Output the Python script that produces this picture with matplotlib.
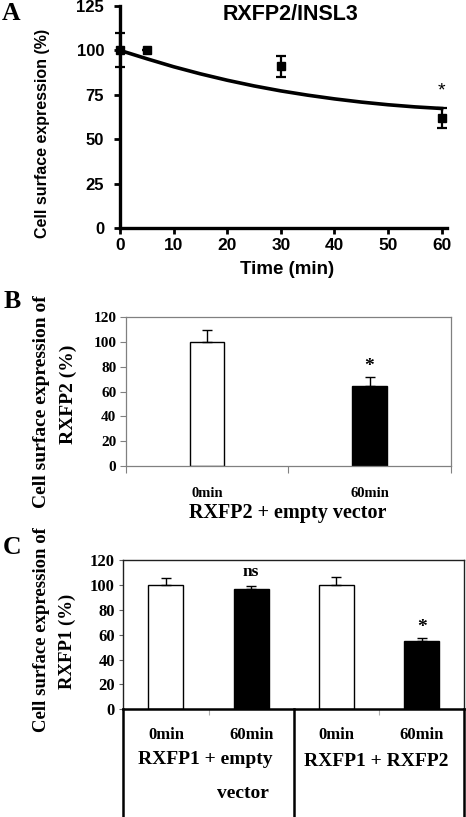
import matplotlib
matplotlib.use("Agg")
import matplotlib.pyplot as plt

# ---------------- data ----------------
# Panel A: time course
time_min = [0, 5, 30, 60]
expr_mean = [100, 100, 91, 62]
expr_err = [9.6, 0, 6, 5.6]
curve_time = [0, 5, 10, 15, 20, 25, 30, 35, 40, 45, 50, 55, 60]
curve_expr = [100, 95.3, 90.8, 86.8, 83.2, 80.0, 77.2, 74.8, 72.7, 70.9, 69.4, 68.2, 67.3]
a_xticks = [0, 10, 20, 30, 40, 50, 60]
a_yticks = [0, 25, 50, 75, 100, 125]

# Panel B
b_labels = ["0min", "60min"]
b_values = [100, 64.6]
b_err = [9.5, 7.0]
b_colors = ["white", "black"]

# Panel C
c_labels = ["0min", "60min", "0min", "60min"]
c_values = [100, 97, 100, 55.2]
c_err = [5.8, 2.4, 6.6, 2.0]
c_colors = ["white", "black", "white", "black"]
c_groups = ["RXFP1 + empty\nvector", "RXFP1 + RXFP2"]
bar_yticks = [0, 20, 40, 60, 80, 100, 120]

W, H = 466, 817
fig = plt.figure(figsize=(W / 100, H / 100), dpi=100)

def fx(px):
    return px / W

def fy(py):
    return 1 - py / H

def axes_px(l, t, r, b):
    return fig.add_axes([fx(l), fy(b), (r - l) / W, (b - t) / H])

SANS = "Liberation Sans"
SERIF = "Liberation Serif"

# ---------------- Panel A ----------------
axA = axes_px(120, 6, 447, 228)
axA.plot(curve_time, curve_expr, color="black", lw=2.6, clip_on=False, zorder=3)
axA.errorbar(time_min, expr_mean, yerr=expr_err, fmt="s", color="black",
             markersize=5.5, elinewidth=1.6, capsize=3.8, capthick=1.6,
             clip_on=False, zorder=4)
axA.set_xlim(0, 61)
axA.set_ylim(0, 125)
axA.set_xticks(a_xticks)
axA.set_yticks(a_yticks)
for s in ["top", "right"]:
    axA.spines[s].set_visible(False)
for s in ["left", "bottom"]:
    axA.spines[s].set_linewidth(2.4)
axA.tick_params(axis="both", direction="out", length=4.5, width=2.0, color="black")
axA.tick_params(axis="x", pad=3)
axA.tick_params(axis="y", pad=7)
for lab in axA.get_xticklabels():
    lab.set_fontfamily(SANS); lab.set_fontweight("bold"); lab.set_fontsize(12.5)
for lab in axA.get_yticklabels():
    lab.set_fontfamily(SANS); lab.set_fontweight("bold"); lab.set_fontsize(12)
axA.text(60, 77, "*", ha="center", va="center", fontsize=14, family=SANS)
fig.text(fx(290), fy(15), "RXFP2/INSL3", ha="center", va="center",
         fontsize=15.5, fontweight="bold", family=SANS)
fig.text(fx(287), fy(269), "Time (min)", ha="center", va="center",
         fontsize=13.5, fontweight="bold", family=SANS)
fig.text(fx(43), fy(133), "Cell surface expression (%)", ha="center", va="center",
         rotation=90, fontsize=11.5, fontweight="bold", family=SANS)
fig.text(fx(11), fy(14), "A", ha="center", va="center", fontsize=18.5,
         fontweight="bold", family=SERIF)

# ---------------- Panel B ----------------
axB = axes_px(126, 317.3, 450.7, 466)
xb = list(range(len(b_values)))
axB.bar(xb, b_values, width=0.213, color=b_colors, edgecolor="black", linewidth=1.0, zorder=2)
axB.errorbar(xb, b_values, yerr=[[0] * len(b_err), b_err], fmt="none", ecolor="black",
             elinewidth=1.0, capsize=3.5, capthick=1.0, zorder=3)
axB.set_xlim(-0.5, 1.5)
axB.set_ylim(0, 120)
axB.set_yticks(bar_yticks)
axB.set_xticks(xb)
axB.set_xticklabels(b_labels)
axB.set_xticks([-0.5, 0.5, 1.5], minor=True)
axB.tick_params(axis="x", which="major", length=0, pad=15)
axB.tick_params(axis="x", which="minor", length=5, width=0.8, color="#808080", direction="out")
axB.tick_params(axis="y", length=4, width=0.8, color="#808080", direction="out", pad=3)
for s in axB.spines.values():
    s.set_color("#808080"); s.set_linewidth(0.9)
for lab in axB.get_xticklabels():
    lab.set_fontfamily(SERIF); lab.set_fontweight("bold"); lab.set_fontsize(10.5)
for lab in axB.get_yticklabels():
    lab.set_fontfamily(SERIF); lab.set_fontweight("bold"); lab.set_fontsize(11)
axB.text(1, 80, "*", ha="center", va="center", fontsize=14, fontweight="bold", family=SERIF)
fig.text(fx(288), fy(513), "RXFP2 + empty vector", ha="center", va="center",
         fontsize=14.5, fontweight="bold", family=SERIF)
fig.text(fx(42), fy(402), "Cell surface expression of", ha="center", va="center",
         rotation=90, fontsize=14, fontweight="bold", family=SERIF)
fig.text(fx(68), fy(394), "RXFP2 (%)", ha="center", va="center",
         rotation=90, fontsize=14, fontweight="bold", family=SERIF)
fig.text(fx(12), fy(302), "B", ha="center", va="center", fontsize=18.5,
         fontweight="bold", family=SERIF)

# ---------------- Panel C ----------------
axC = axes_px(123.3, 560, 464.3, 709.3)
xc = list(range(len(c_values)))
axC.bar(xc, c_values, width=0.41, color=c_colors, edgecolor="black", linewidth=1.0, zorder=2)
axC.errorbar(xc, c_values, yerr=[[0] * len(c_err), c_err], fmt="none", ecolor="black",
             elinewidth=1.0, capsize=3.5, capthick=1.0, zorder=3)
axC.set_xlim(-0.5, 3.5)
axC.set_ylim(0, 120)
axC.set_yticks(bar_yticks)
axC.set_xticks([])
axC.set_xticks([0.5, 2.5], minor=True)
axC.tick_params(axis="x", which="minor", length=4, width=0.8, color="#b0b0b0", direction="out")
axC.tick_params(axis="y", length=3, width=0.8, color="#606060", direction="out", pad=3)
for s in ["top", "right", "left"]:
    axC.spines[s].set_color("#202020"); axC.spines[s].set_linewidth(1.0)
axC.spines["bottom"].set_color("black"); axC.spines["bottom"].set_linewidth(1.8)
for lab in axC.get_yticklabels():
    lab.set_fontfamily(SERIF); lab.set_fontweight("bold"); lab.set_fontsize(12)
axC.text(1, 110.5, "ns", ha="center", va="center", fontsize=12.5, fontweight="bold", family=SERIF)
axC.text(3, 66, "*", ha="center", va="center", fontsize=14, fontweight="bold", family=SERIF)

# table below the axis
y_bottom_axes = -(H - 709.3) / 149.3
for xv in [-0.5, 1.5, 3.5]:
    axC.plot([xv, xv], [0, y_bottom_axes], transform=axC.get_xaxis_transform(),
             color="black", lw=1.8, clip_on=False)
for xv, lab in zip(xc, c_labels):
    fig.text(axC.transData.transform((xv, 0))[0] / fig.dpi / fig.get_figwidth(), fy(735), lab,
             ha="center", va="center", fontsize=12, fontweight="bold", family=SERIF)
fig.text(fx(205), fy(760), c_groups[0].split("\n")[0], ha="center", va="center",
         fontsize=14, fontweight="bold", family=SERIF)
fig.text(fx(243), fy(793), c_groups[0].split("\n")[1], ha="center", va="center",
         fontsize=14, fontweight="bold", family=SERIF)
fig.text(fx(376), fy(761), c_groups[1], ha="center", va="center",
         fontsize=14, fontweight="bold", family=SERIF)
fig.text(fx(42), fy(630), "Cell surface expression of", ha="center", va="center",
         rotation=90, fontsize=13.5, fontweight="bold", family=SERIF)
fig.text(fx(67), fy(641), "RXFP1 (%)", ha="center", va="center",
         rotation=90, fontsize=13.5, fontweight="bold", family=SERIF)
fig.text(fx(12), fy(547), "C", ha="center", va="center", fontsize=18.5,
         fontweight="bold", family=SERIF)

fig.savefig("out.png", dpi=100)
